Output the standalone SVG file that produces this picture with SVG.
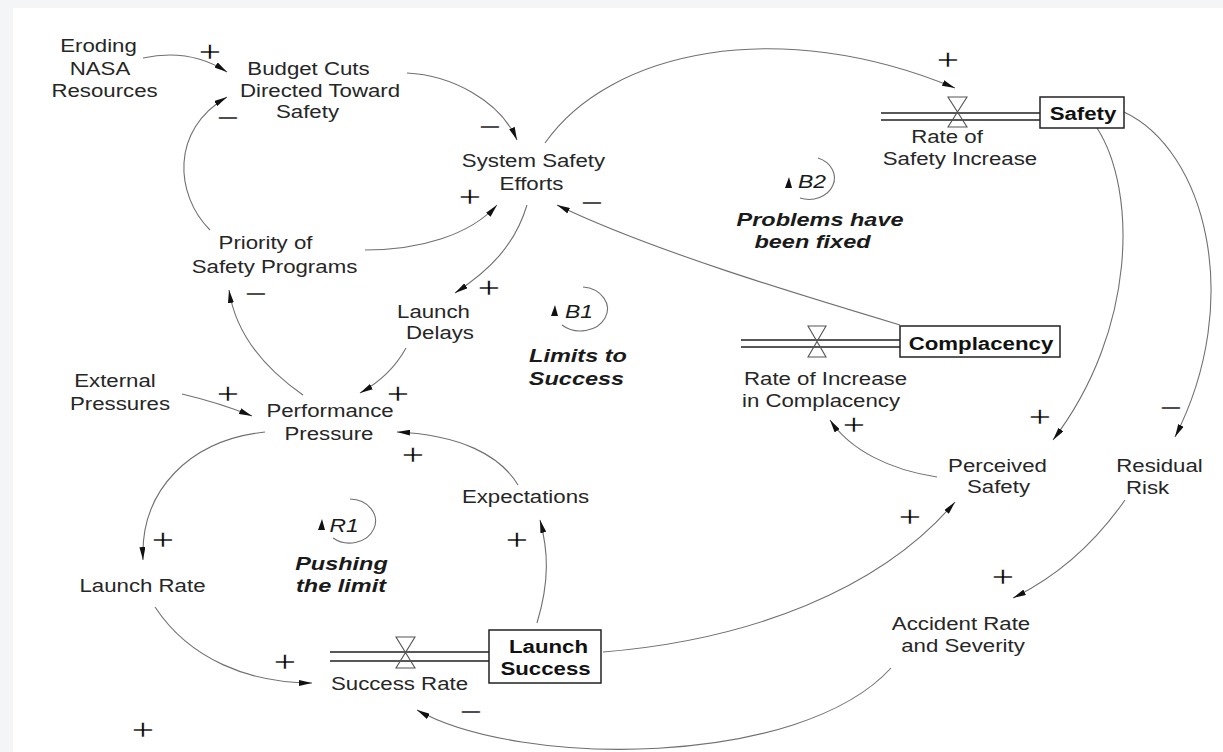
<svg xmlns="http://www.w3.org/2000/svg" width="1223" height="752" viewBox="0 0 1223 752">
<defs>
<style>
.t{font-family:"Liberation Sans",Arial,sans-serif;font-size:17.5px;fill:#262626;text-anchor:middle}
.b{font-weight:bold;fill:#111}
.bi{font-weight:bold;font-style:italic;font-size:18.5px;fill:#1a1a1a}
.i{font-style:italic;font-size:18px;fill:#1a1a1a}
.s{font-family:"Liberation Sans",Arial,sans-serif;font-size:30px;fill:#000;text-anchor:middle;stroke:#fff;stroke-width:0.55px;paint-order:fill}
.c{fill:none;stroke:#707070;stroke-width:1.1;marker-end:url(#ah)}
.loop{fill:none;stroke:#707070;stroke-width:1.1}
.pipe{stroke:#222;stroke-width:1.3;fill:none}
.box{fill:#fff;stroke:#222;stroke-width:1.5}
.valve{fill:none;stroke:#555;stroke-width:1.1}
</style>
<marker id="ah" viewBox="0 0 13 6" refX="13" refY="3" markerWidth="13" markerHeight="6" orient="auto" markerUnits="userSpaceOnUse">
<path d="M0,0 L13,3 L0,6 Z" fill="#111"/>
</marker>
</defs>
<rect x="0" y="0" width="1223" height="752" fill="#f4f5f7"/>
<rect x="13" y="8" width="1210" height="744" fill="#fff"/>

<g id="connectors">
<path class="c" d="M143,58 Q190,48 227,72"/>
<path class="c" d="M210,230 C175,195 170,130 227,97"/>
<path class="c" d="M407,73 C450,75 500,100 517,140"/>
<path class="c" d="M365,250 C420,250 470,235 497,205"/>
<path class="c" d="M900,325 C800,295 650,250 557,205"/>
<path class="c" d="M527,205 C515,245 490,270 455,293"/>
<path class="c" d="M406,348 C395,368 380,382 360,393"/>
<path class="c" d="M303,395 C260,365 235,330 229,290"/>
<path class="c" d="M182,394 Q220,403 252,416"/>
<path class="c" d="M518,485 C500,455 460,435 397,432"/>
<path class="c" d="M265,432 C190,440 140,490 143,560"/>
<path class="c" d="M155,607 C190,660 250,683 312,683"/>
<path class="c" d="M537,623 C550,580 548,550 540,520"/>
<path class="c" d="M603,652 C750,640 880,590 955,502"/>
<path class="c" d="M891,668 C800,768 520,768 417,710"/>
<path class="c" d="M545,143 C610,50 780,15 955,88"/>
<path class="c" d="M1097,128 C1137,190 1137,330 1053,440"/>
<path class="c" d="M1124,112 C1205,150 1245,300 1175,437"/>
<path class="c" d="M1125,500 C1090,550 1050,580 1013,598"/>
<path class="c" d="M937,477 C890,470 850,450 830,420"/>
</g>

<g id="signs">
<text class="s" transform="translate(210 62) scale(1.3 1)">+</text>
<text class="s" transform="translate(228 128) scale(1.3 1)">−</text>
<text class="s" transform="translate(490 137) scale(1.3 1)">−</text>
<text class="s" transform="translate(470 207) scale(1.3 1)">+</text>
<text class="s" transform="translate(592 213) scale(1.3 1)">−</text>
<text class="s" transform="translate(948 70) scale(1.3 1)">+</text>
<text class="s" transform="translate(489 298) scale(1.3 1)">+</text>
<text class="s" transform="translate(256 304) scale(1.3 1)">−</text>
<text class="s" transform="translate(398 404) scale(1.3 1)">+</text>
<text class="s" transform="translate(228 404) scale(1.3 1)">+</text>
<text class="s" transform="translate(413 465) scale(1.3 1)">+</text>
<text class="s" transform="translate(163 550) scale(1.3 1)">+</text>
<text class="s" transform="translate(285 672) scale(1.3 1)">+</text>
<text class="s" transform="translate(143 740) scale(1.3 1)">+</text>
<text class="s" transform="translate(517 550) scale(1.3 1)">+</text>
<text class="s" transform="translate(471 722) scale(1.3 1)">−</text>
<text class="s" transform="translate(910 527) scale(1.3 1)">+</text>
<text class="s" transform="translate(1003 587) scale(1.3 1)">+</text>
<text class="s" transform="translate(854 435) scale(1.3 1)">+</text>
<text class="s" transform="translate(1040 427) scale(1.3 1)">+</text>
<text class="s" transform="translate(1171 418) scale(1.3 1)">−</text>
</g>

<g id="eroding">
<text class="t" transform="translate(98.5 52) scale(1.27 1)">Eroding</text>
<text class="t" transform="translate(100 75) scale(1.27 1)">NASA</text>
<text class="t" transform="translate(104.5 97) scale(1.27 1)">Resources</text>
</g>
<g id="budget">
<text class="t" transform="translate(308.5 75) scale(1.27 1)">Budget Cuts</text>
<text class="t" transform="translate(320 97) scale(1.27 1)">Directed Toward</text>
<text class="t" transform="translate(307.5 118) scale(1.27 1)">Safety</text>
</g>
<g id="system-safety">
<text class="t" transform="translate(533.5 167) scale(1.27 1)">System Safety</text>
<text class="t" transform="translate(531.5 190) scale(1.27 1)">Efforts</text>
</g>
<g id="priority">
<text class="t" transform="translate(265.5 249) scale(1.27 1)">Priority of</text>
<text class="t" transform="translate(274.5 273) scale(1.27 1)">Safety Programs</text>
</g>
<g id="launch-delays">
<text class="t" transform="translate(433.5 318) scale(1.27 1)">Launch</text>
<text class="t" transform="translate(440 339) scale(1.27 1)">Delays</text>
</g>
<g id="external">
<text class="t" transform="translate(115 387) scale(1.27 1)">External</text>
<text class="t" transform="translate(120 410) scale(1.27 1)">Pressures</text>
</g>
<g id="performance">
<text class="t" transform="translate(330 417) scale(1.27 1)">Performance</text>
<text class="t" transform="translate(329 440) scale(1.27 1)">Pressure</text>
</g>
<g id="expectations">
<text class="t" transform="translate(525.5 503) scale(1.27 1)">Expectations</text>
</g>
<g id="launch-rate">
<text class="t" transform="translate(142.5 592) scale(1.27 1)">Launch Rate</text>
</g>
<g id="success-rate">
<path class="pipe" d="M330,652 H489 M330,661 H489"/>
<path class="valve" d="M396,637 H415 L396,668 H415 Z"/>
<text class="t" transform="translate(399.5 690) scale(1.27 1)">Success Rate</text>
</g>
<g id="launch-success">
<rect class="box" x="489" y="630" width="112" height="53"/>
<text class="t b" transform="translate(548.5 653) scale(1.27 1)">Launch</text>
<text class="t b" transform="translate(545.5 675) scale(1.27 1)">Success</text>
</g>
<g id="rate-safety">
<path class="pipe" d="M881,113 H1040 M881,120 H1040"/>
<path class="valve" d="M948,97 H967 L948,127 H967 Z"/>
<text class="t" transform="translate(947 143) scale(1.27 1)">Rate of</text>
<text class="t" transform="translate(960 165) scale(1.27 1)">Safety Increase</text>
</g>
<g id="safety">
<rect class="box" x="1040" y="97" width="84" height="31"/>
<text class="t b" transform="translate(1083 120) scale(1.27 1)">Safety</text>
</g>
<g id="rate-complacency">
<path class="pipe" d="M741,340 H900 M741,347 H900"/>
<path class="valve" d="M808,326 H826 L808,357 H826 Z"/>
<text class="t" transform="translate(825.5 385) scale(1.27 1)">Rate of Increase</text>
<text class="t" transform="translate(821 407) scale(1.27 1)">in Complacency</text>
</g>
<g id="complacency">
<rect class="box" x="900" y="326" width="160" height="31"/>
<text class="t b" transform="translate(981 350) scale(1.27 1)">Complacency</text>
</g>
<g id="perceived-safety">
<text class="t" transform="translate(997.5 472) scale(1.27 1)">Perceived</text>
<text class="t" transform="translate(998.5 493) scale(1.27 1)">Safety</text>
</g>
<g id="residual-risk">
<text class="t" transform="translate(1159.5 472) scale(1.27 1)">Residual</text>
<text class="t" transform="translate(1147.5 494) scale(1.27 1)">Risk</text>
</g>
<g id="accident">
<text class="t" transform="translate(961 630) scale(1.27 1)">Accident Rate</text>
<text class="t" transform="translate(963 652) scale(1.27 1)">and Severity</text>
</g>

<g id="loop-b2">
<path class="loop" d="M818,158 A25 21 0 1 1 800,198"/>
<path d="M785,188 L792,188 L789,177 Z" fill="#111"/>
<text class="t i" transform="translate(812 188) scale(1.27 1)">B2</text>
<text class="t bi" transform="translate(820 226) scale(1.27 1)">Problems have</text>
<text class="t bi" transform="translate(812.5 248) scale(1.27 1)">been fixed</text>
</g>
<g id="loop-b1">
<path class="loop" d="M583,287 A27 22 0 1 1 562,325"/>
<path d="M551,316 L558,316 L555,305 Z" fill="#111"/>
<text class="t i" transform="translate(579 318) scale(1.27 1)">B1</text>
<text class="t bi" transform="translate(578 362) scale(1.27 1)">Limits to</text>
<text class="t bi" transform="translate(576.5 385) scale(1.27 1)">Success</text>
</g>
<g id="loop-r1">
<path class="loop" d="M350,499 A26 22 0 1 1 333,538"/>
<path d="M318,530 L325,530 L322,519 Z" fill="#111"/>
<text class="t i" transform="translate(344 532) scale(1.27 1)">R1</text>
<text class="t bi" transform="translate(341.5 570) scale(1.27 1)">Pushing</text>
<text class="t bi" transform="translate(341 592) scale(1.27 1)">the limit</text>
</g>
</svg>
